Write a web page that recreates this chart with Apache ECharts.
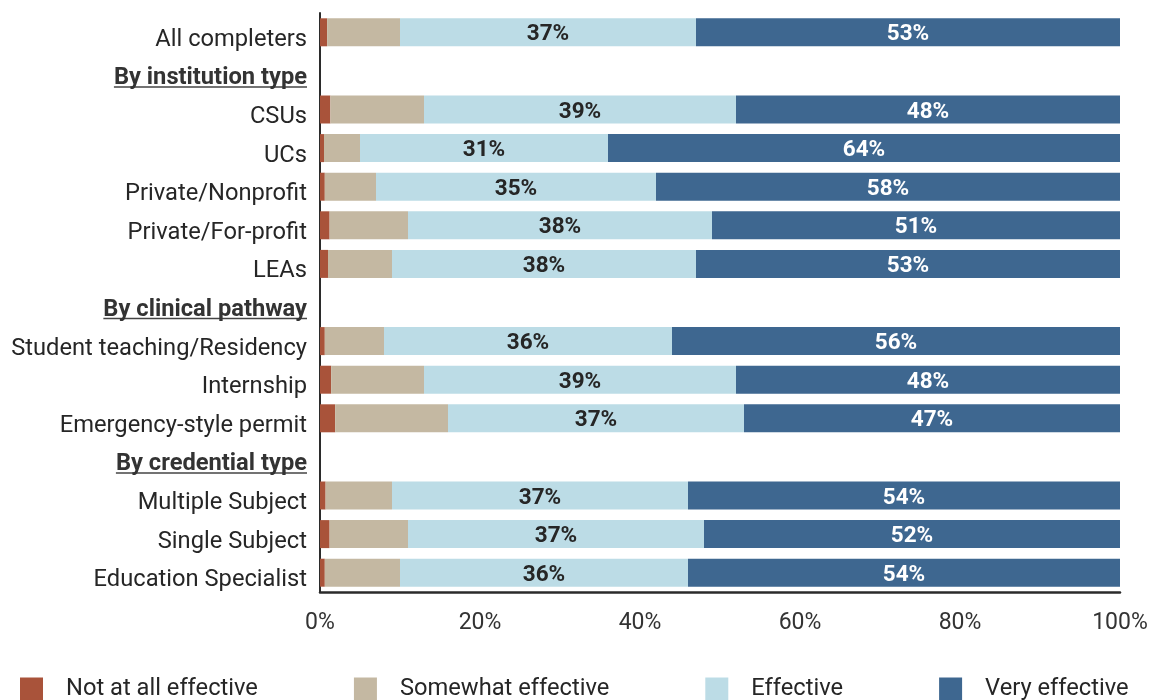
<!DOCTYPE html>
<html>
<head>
<meta charset="utf-8">
<script src="https://cdn.jsdelivr.net/npm/echarts@6/dist/echarts.min.js"></script>
<style>
  html, body { margin: 0; padding: 0; background: #fff; }
  #chart { width: 1156px; height: 700px; }
</style>
</head>
<body>
<div id="chart"></div>
<script>
// Rows, top to bottom; section headers carry no bars.
const categories = [
  'All completers',
  'By institution type',
  'CSUs', 'UCs', 'Private/Nonprofit', 'Private/For-profit', 'LEAs',
  'By clinical pathway',
  'Student teaching/Residency', 'Internship', 'Emergency-style permit',
  'By credential type',
  'Multiple Subject', 'Single Subject', 'Education Specialist'
];
const headers = ['By institution type', 'By clinical pathway', 'By credential type'];

const seriesNames = ['Not at all effective', 'Somewhat effective', 'Effective', 'Very effective'];

// Percent of completers per response (null = header row)
const notAtAll  = [0.9, null, 1.3, 0.5, 0.6, 1.2, 1.0, null, 0.6, 1.4, 1.9, null, 0.7, 1.2, 0.6];
const somewhat  = [9.1, null, 11.7, 4.5, 6.4, 9.8, 8.0, null, 7.4, 11.6, 14.1, null, 8.3, 9.8, 9.4];
const effective = [37, null, 39, 31, 35, 38, 38, null, 36, 39, 37, null, 37, 37, 36];
const veryEff   = [53, null, 48, 64, 58, 51, 53, null, 56, 48, 47, null, 54, 52, 54];

const xTicks = [0, 20, 40, 60, 80, 100];

const colors = ['#A9533A', '#C4B8A2', '#BCDCE6', '#3E6790'];
const values = [notAtAll, somewhat, effective, veryEff];
const labelColors = [null, null, '#262626', '#ffffff'];

const FONT = 'Roboto, "Noto Sans", sans-serif';
const CAT_SIZE = 23.7;

const chart = echarts.init(document.getElementById('chart'), null, { renderer: 'canvas' });

const series = seriesNames.map((name, i) => ({
  name: name,
  type: 'bar',
  stack: 'total',
  barWidth: 28,
  data: values[i],
  itemStyle: { color: colors[i] },
  label: labelColors[i] ? {
    show: true,
    position: 'inside',
    offset: [0, 2.5],
    formatter: p => (p.value == null ? '' : p.value + '%'),
    color: labelColors[i],
    fontFamily: FONT,
    fontWeight: 'bold',
    fontSize: 22.5
  } : { show: false },
  emphasis: { disabled: true }
}));

chart.setOption({
  animation: false,
  textStyle: { fontFamily: FONT },
  grid: { left: 320, right: 36, top: 13, height: 579, containLabel: false },
  legend: {
    data: seriesNames,
    left: 15,
    top: 672,
    itemWidth: 23,
    itemHeight: 23,
    itemGap: 96,
    icon: 'rect',
    textStyle: { fontSize: 23.7, color: '#262626', fontFamily: FONT, padding: [0, 0, 0, 18] }
  },
  xAxis: {
    type: 'value',
    min: xTicks[0],
    max: xTicks[xTicks.length - 1],
    interval: 20,
    axisLine: { show: true, lineStyle: { color: '#2b2b2b', width: 2.5 } },
    axisTick: { show: false },
    splitLine: { show: false },
    axisLabel: { formatter: '{value}%', fontSize: 23, color: '#333', margin: 20, fontFamily: FONT }
  },
  yAxis: {
    type: 'category',
    inverse: true,
    data: categories,
    axisLine: { show: true, lineStyle: { color: '#2b2b2b', width: 2 } },
    axisTick: { show: false },
    axisLabel: {
      fontSize: CAT_SIZE,
      color: '#262626',
      margin: 13,
      padding: [15, 0, 0, 0],
      fontFamily: FONT,
      formatter: v => headers.includes(v) ? '{hdr|' + v + '}' : v,
      rich: { hdr: { fontWeight: 'bold', fontSize: CAT_SIZE, color: '#333', fontFamily: FONT } }
    }
  },
  series: series
});

// Underline the section headers on the category axis
const ctx = document.createElement('canvas').getContext('2d');
ctx.font = 'bold ' + CAT_SIZE + 'px ' + FONT;
const axisX = chart.convertToPixel({ xAxisIndex: 0 }, 0);
const underlines = headers.map(h => {
  const y = chart.convertToPixel({ yAxisIndex: 0 }, h);
  const w = ctx.measureText(h).width;
  const right = axisX - 13;
  return {
    type: 'line',
    shape: { x1: right - w, y1: y + 16, x2: right, y2: y + 16 },
    style: { stroke: '#444', lineWidth: 1.5 },
    silent: true
  };
});
chart.setOption({ graphic: underlines });
</script>
</body>
</html>
